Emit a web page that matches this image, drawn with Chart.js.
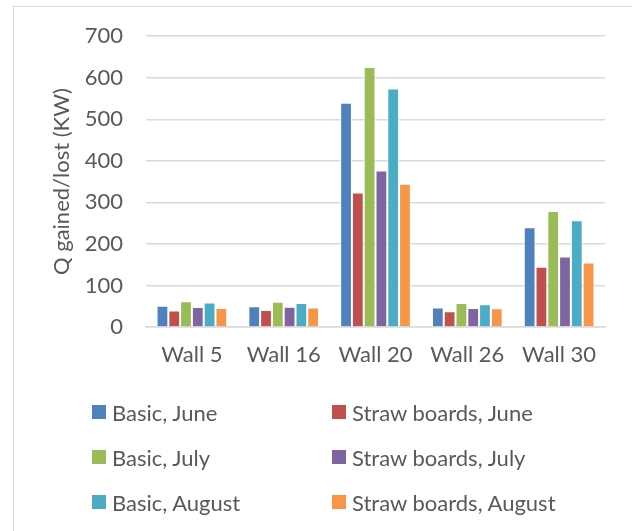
<!DOCTYPE html>
<html>
<head>
<meta charset="utf-8">
<script src="https://cdn.jsdelivr.net/npm/chart.js@4.4.1/dist/chart.umd.min.js"></script>
<style>
  html, body { margin: 0; padding: 0; background: #fff; overflow: hidden; }
  #frame { position: absolute; left: 13px; top: 6px; width: 700px; height: 600px; border: 1px solid #d9d9d9; box-sizing: border-box; }
  #wrap { position: absolute; left: 0; top: 0; width: 632px; height: 385px; }
  #legend { position: absolute; left: 0; top: 0; width: 632px; height: 531px; font-family: Lato, "Open Sans", sans-serif; font-size: 22px; color: #595959; pointer-events: none; }
  .item { position: absolute; display: flex; align-items: center; white-space: nowrap; }
  .box { width: 14px; height: 14px; margin-right: 6px; flex: none; }
</style>
</head>
<body>
<div id="frame"></div>
<div id="wrap"><canvas id="c" width="632" height="385"></canvas></div>
<div id="legend"></div>
<script>
const categories = ["Wall 5", "Wall 16", "Wall 20", "Wall 26", "Wall 30"];
const seriesNames = ["Basic, June", "Straw boards, June", "Basic, July", "Straw boards, July", "Basic, August", "Straw boards, August"];
const basicJune = [51, 50, 540, 47, 240];
const strawJune = [40, 41, 324, 38, 145];
const basicJuly = [62, 61, 626, 58, 279];
const strawJuly = [48, 49, 377, 46, 170];
const basicAugust = [59, 58, 574, 55, 257];
const strawAugust = [46, 47, 345, 45, 155];
const yTicks = [0, 100, 200, 300, 400, 500, 600, 700];
const colors = ["#4F81BD", "#C0504D", "#9BBB59", "#8064A2", "#4BACC6", "#F79646"];

const seriesValues = [basicJune, strawJune, basicJuly, strawJuly, basicAugust, strawAugust];
const FONT = "Lato, 'Open Sans', sans-serif";
const TXT = "#595959";
const PADL = 49;

const chart = new Chart(document.getElementById("c"), {
  type: "bar",
  data: {
    labels: categories,
    datasets: seriesValues.map((v, i) => ({
      label: seriesNames[i],
      data: v,
      backgroundColor: colors[i],
      borderColor: "rgba(255,255,255,0.85)",
      borderWidth: 1,
      categoryPercentage: 0.77,
      barPercentage: 1.0
    }))
  },
  options: {
    responsive: false,
    animation: false,
    layout: { padding: { left: PADL, right: 27, top: 35, bottom: 0 } },
    plugins: { legend: { display: false }, tooltip: { enabled: false } },
    scales: {
      x: {
        grid: { display: false, drawTicks: false },
        border: { display: true, color: "#d9d9d9", width: 1.5 },
        ticks: { color: TXT, font: { family: FONT, size: 22 }, padding: 15, maxRotation: 0 },
        afterFit: (s) => { s.height = 58; }
      },
      y: {
        min: 0, max: 700,
        afterBuildTicks: (s) => { s.ticks = yTicks.map(v => ({ value: v })); },
        grid: { color: "#d9d9d9", lineWidth: 1.5, drawTicks: false },
        border: { display: false },
        ticks: { color: TXT, font: { family: FONT, size: 22 }, padding: 23 },
        title: { display: true, text: "Q gained/lost (KW)", color: TXT, font: { family: FONT, size: 22 }, padding: { top: 0, bottom: 0 } },
        afterFit: (s) => { s.width = 146 - PADL; }
      }
    }
  }
});

// Legend built from chart datasets
const leg = document.getElementById("legend");
const colX = [92, 332];
const rowY = [412, 457, 502];
chart.data.datasets.forEach((ds, i) => {
  const d = document.createElement("div");
  d.className = "item";
  d.style.left = colX[i % 2] + "px";
  d.style.top = (rowY[Math.floor(i / 2)] - 14) + "px";
  d.style.height = "28px";
  const b = document.createElement("span");
  b.className = "box";
  b.style.background = ds.backgroundColor;
  const t = document.createElement("span");
  t.textContent = ds.label;
  d.appendChild(b); d.appendChild(t);
  leg.appendChild(d);
});
</script>
</body>
</html>
